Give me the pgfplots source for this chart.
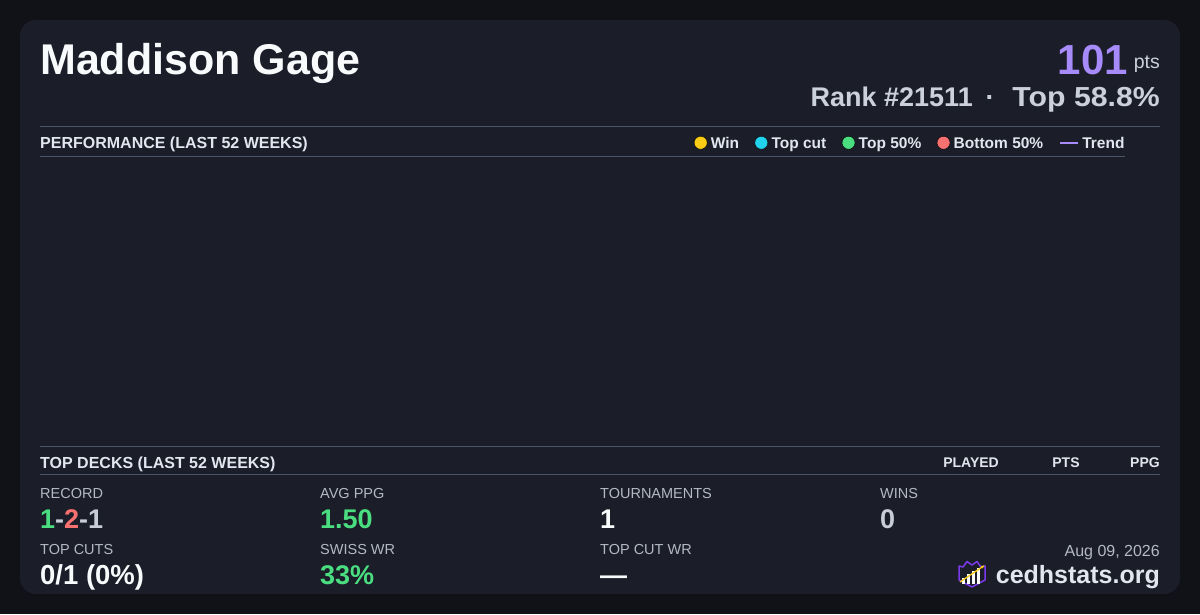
\documentclass[border=0pt]{standalone}
\usepackage{pgfplots}
\pgfplotsset{compat=1.18}
\usetikzlibrary{arrows.meta}
\usepackage{fontspec}
\setmainfont{Liberation Sans}
\definecolor{outerbg}{HTML}{111217}
\definecolor{cardbg}{HTML}{1B1D28}
\definecolor{rulec}{HTML}{4A5568}
\definecolor{whitec}{HTML}{F8FAFC}
\definecolor{rankc}{HTML}{CBD0DA}
\definecolor{labelc}{HTML}{B4B9C4}
\definecolor{titlec}{HTML}{E2E6EE}
\definecolor{purplec}{HTML}{A78BFA}
\definecolor{greenc}{HTML}{4ADE80}
\definecolor{redc}{HTML}{F87171}
\definecolor{yellowc}{HTML}{FACC15}
\definecolor{cyanc}{HTML}{22D3EE}
\definecolor{grayval}{HTML}{C8CCD6}
\definecolor{logoc}{HTML}{7C3AED}
\newcommand{\fs}[1]{\fontsize{#1}{#1}\selectfont}
\begin{document}
\begin{tikzpicture}[x=1pt,y=-1pt]
\fill[outerbg] (0,0) rectangle (1200,614);
\fill[cardbg, rounded corners=16pt] (20,20) rectangle (1180,594);
% header
\node[anchor=base west, inner sep=0, text=whitec] at (40,74) {\fs{43}\bfseries Maddison Gage};
\node[anchor=base east, inner sep=0, text=rankc] at (1160,68) {\fs{19.5}pts};
\node[anchor=base east, inner sep=0, text=purplec] at (1128,74) {\fs{42}\bfseries 101};
\node[anchor=base east, inner sep=0, text=rankc] at (1160,106) {\scalebox{1.1}[1]{\fs{27.5}\bfseries Top 58.8\%}};
\node[anchor=base, inner sep=0, text=rankc] at (990,106) {\fs{27}\bfseries ·};
\node[anchor=base east, inner sep=0, text=rankc] at (973,106) {\fs{27}\bfseries Rank \#21511};
% rules
\draw[rulec, line width=1pt] (40,126.5) -- (1160,126.5);
\draw[rulec, line width=1pt] (40,156.5) -- (1125,156.5);
\draw[rulec, line width=1pt] (40,446.5) -- (1160,446.5);
\draw[rulec, line width=1pt] (40,474.5) -- (1160,474.5);
% section titles
\node[anchor=base west, inner sep=0, text=titlec] at (40,148) {\fs{16}\bfseries PERFORMANCE (LAST 52 WEEKS)};
\node[anchor=base west, inner sep=0, text=titlec] at (40,468) {\fs{16}\bfseries TOP DECKS (LAST 52 WEEKS)};
\node[anchor=base east, inner sep=0, text=titlec] at (999,467) {\fs{14}\bfseries PLAYED};
\node[anchor=base, inner sep=0, text=titlec] at (1066,467) {\fs{14}\bfseries PTS};
\node[anchor=base east, inner sep=0, text=titlec] at (1160,467) {\fs{14}\bfseries PPG};
% performance axis (no results in the last 52 weeks)
\begin{axis}[at={(40pt,-445pt)}, anchor=south west, scale only axis,
  width=1085pt, height=288pt, hide axis,
  xmin=0, xmax=52, ymin=0, ymax=10,
  legend columns=5,
  legend style={at={(1,1)}, anchor=south east, draw=none, fill=none,
    inner sep=0pt, outer sep=0pt, font=\fs{15.5}\bfseries, text=titlec,
    nodes={inner xsep=3.5pt, inner ysep=0pt, text height=11pt, text depth=3.5pt},
    /tikz/every even column/.append style={column sep=12pt},
    yshift=5pt, xshift=3pt},
  legend image code/.code={\fill[#1] (6.5pt,2pt) circle (6.5pt);},
]
\addlegendimage{fill=yellowc}\addlegendentry{Win}
\addlegendimage{fill=cyanc}\addlegendentry{Top cut}
\addlegendimage{fill=greenc}\addlegendentry{Top 50\%}
\addlegendimage{fill=redc}\addlegendentry{Bottom 50\%}
\addlegendimage{legend image code/.code={\draw[purplec, line width=2pt] (0pt,2pt) -- (18pt,2pt);}}\addlegendentry{Trend}
\end{axis}
% stats
\node[anchor=base west, inner sep=0, text=labelc] at (40,498) {\fs{14.5}RECORD};
\node[anchor=base west, inner sep=0] at (40,528) {\fs{27}\bfseries\textcolor{greenc}{1}\textcolor{grayval}{-}\textcolor{redc}{2}\textcolor{grayval}{-1}};
\node[anchor=base west, inner sep=0, text=labelc] at (320,498) {\fs{14.5}AVG PPG};
\node[anchor=base west, inner sep=0, text=greenc] at (320,528) {\fs{27}\bfseries 1.50};
\node[anchor=base west, inner sep=0, text=labelc] at (600,498) {\fs{14.5}TOURNAMENTS};
\node[anchor=base west, inner sep=0, text=whitec] at (600,528) {\fs{27}\bfseries 1};
\node[anchor=base west, inner sep=0, text=labelc] at (880,498) {\fs{14.5}WINS};
\node[anchor=base west, inner sep=0, text=grayval] at (880,528) {\fs{27}\bfseries 0};
\node[anchor=base west, inner sep=0, text=labelc] at (40,554) {\fs{14.5}TOP CUTS};
\node[anchor=base west, inner sep=0, text=whitec] at (40,584) {\fs{27.5}\bfseries 0/1 (0\%)};
\node[anchor=base west, inner sep=0, text=labelc] at (320,554) {\fs{14.5}SWISS WR};
\node[anchor=base west, inner sep=0, text=greenc] at (320,584) {\fs{27}\bfseries 33\%};
\node[anchor=base west, inner sep=0, text=labelc] at (600,554) {\fs{14.5}TOP CUT WR};
\node[anchor=base west, inner sep=0, text=whitec] at (600,584) {\fs{27}\bfseries —};
% footer
\node[anchor=base east, inner sep=0, text=labelc] at (1160,556) {\fs{16}Aug 09, 2026};
\node[anchor=base east, inner sep=0, text=titlec] at (1160,583) {\fs{25}\bfseries cedhstats.org};
% logo
\draw[logoc, line width=1.5pt, line join=round] (959,566) -- (963,567) -- (967,561.5) -- (972,565) -- (977,561.5) -- (981,567) -- (985,566) -- (985,580) -- (972,587) -- (959,580) -- cycle;
\fill[whitec] (961.5,578) rectangle (964.5,583.5);
\fill[whitec] (966.5,574) rectangle (969.5,583.5);
\fill[whitec] (971.5,570.5) rectangle (974.5,583.5);
\fill[whitec] (976.5,567.5) rectangle (979.5,583.5);
\draw[yellowc, line width=1.3pt, -{Latex[length=4pt]}] (960,582) -- (985,565);
\end{tikzpicture}
\end{document}
